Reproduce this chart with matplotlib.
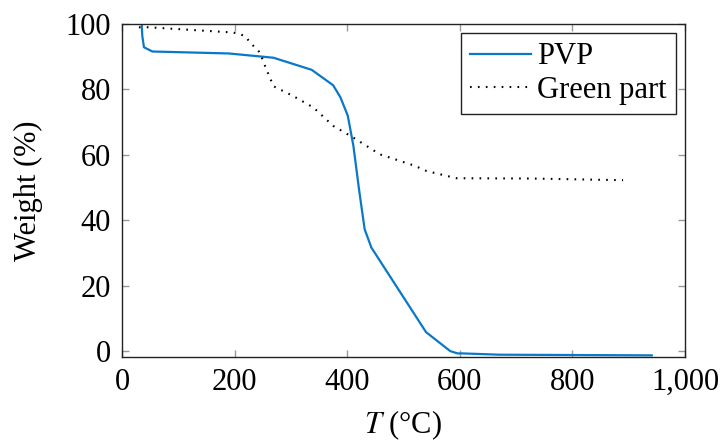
import matplotlib
matplotlib.use("Agg")
import matplotlib.pyplot as plt
from matplotlib.ticker import FuncFormatter

# PVP curve (temperature in degC, weight in %)
pvp_t = [35, 36, 39, 54, 190, 269, 337, 375, 388, 401, 411, 421, 431, 443,
         540, 583, 596, 604, 671, 941]
pvp_w = [100, 96.4, 92.9, 91.6, 91.0, 89.7, 86.0, 81.3, 77.6, 72.0, 62.8,
         49.5, 37.3, 31.7, 5.9, 0.1, -0.6, -0.6, -1.0, -1.2]

# Green part curve
green_t = [30, 47, 198, 218, 230, 245, 254, 269, 304, 340, 375, 411, 458,
           520, 541, 594, 730, 890]
green_w = [99.0, 99.0, 97.4, 96.4, 93.9, 91.3, 87.2, 81.0, 78.0, 74.5, 68.9,
           65.3, 60.2, 56.7, 55.1, 52.9, 52.8, 52.3]

x_ticks = [0, 200, 400, 600, 800, 1000]
y_ticks = [0, 20, 40, 60, 80, 100]

BLUE = "#0a78c8"
TICK_GREY = "#999999"

plt.rcParams["font.family"] = ["Liberation Serif", "DejaVu Serif"]
plt.rcParams["mathtext.fontset"] = "stix"

fig = plt.figure(figsize=(7.21, 4.43), dpi=100)
ax = fig.add_axes([122 / 721, 1 - 357 / 443, (685 - 122) / 721, (357 - 24) / 443])

ax.plot(pvp_t, pvp_w, color=BLUE, linewidth=1.6, label="PVP")
ax.plot(green_t, green_w, color="black", linewidth=1.5,
        linestyle=(0, (0.8, 3.0)), label="Green part")

ax.set_xlim(0, 1000)
ax.set_ylim(-1.7, 100)
ax.set_xticks(x_ticks)
ax.set_yticks(y_ticks)
ax.xaxis.set_major_formatter(FuncFormatter(lambda v, p: f"{int(v):,}"))

ax.tick_params(direction="in", length=5, width=1, color=TICK_GREY,
               labelsize=22, top=True, right=True)
ax.tick_params(axis="x", pad=8)
ax.tick_params(axis="y", pad=8)
for s in ax.spines.values():
    s.set_linewidth(1.0)
    s.set_color("#222222")

ax.set_xlabel(r"$T$ (°C)", fontsize=22, labelpad=8)
ax.set_ylabel("Weight (%)", fontsize=22, labelpad=16)

leg = ax.legend(loc="upper right", fontsize=22, frameon=True, fancybox=False,
                edgecolor="#222222", framealpha=1, borderpad=0.3,
                handlelength=2.0, handletextpad=0.2, labelspacing=0.15,
                borderaxespad=0.3)
leg.get_frame().set_linewidth(1.0)

fig.savefig("out.png", dpi=100)
